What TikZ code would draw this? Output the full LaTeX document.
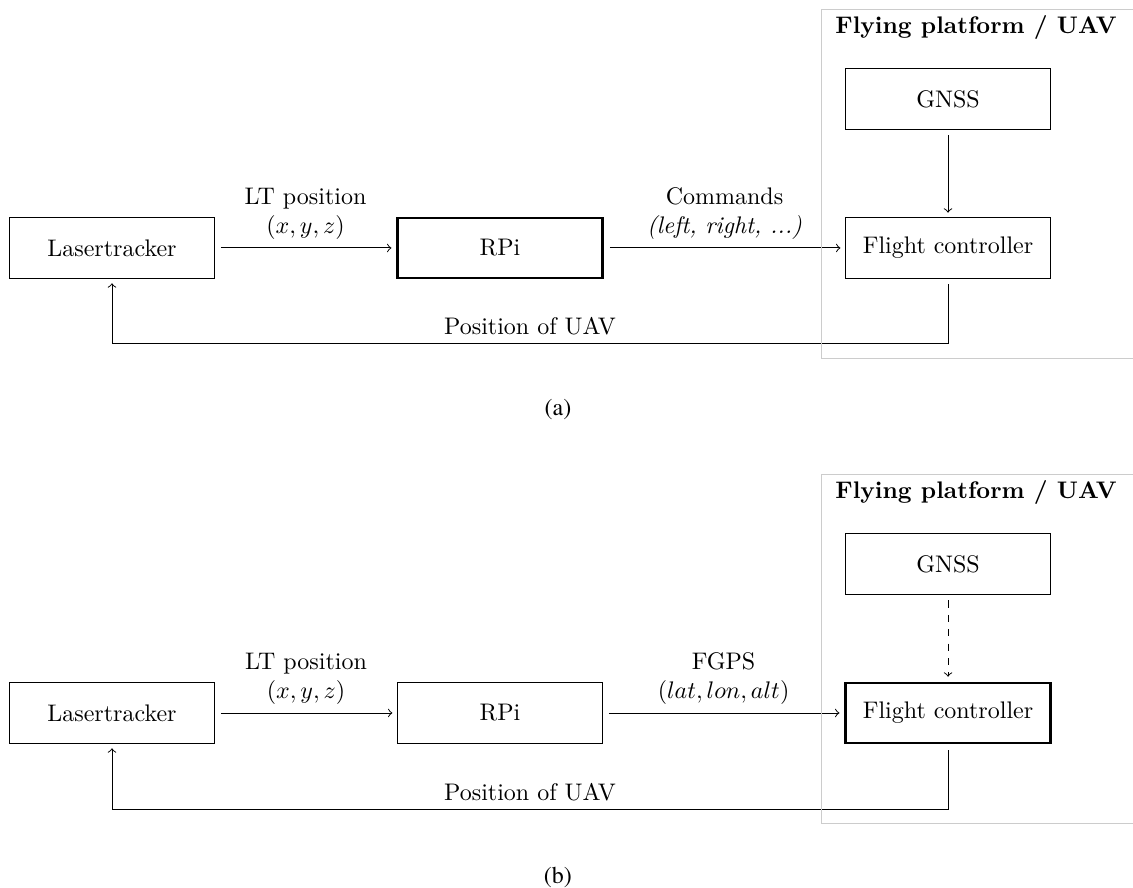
\documentclass[tikz,border=0pt]{standalone}
\usepackage{amssymb,amsmath}
\usepackage{fontspec}
\newfontfamily\capfont{texgyretermes-regular.otf}
\usetikzlibrary{arrows,positioning}

\begin{document}
\begin{tikzpicture}[node distance = 2cm]

    \tikzstyle{block} = [
        rectangle,
        draw,
        minimum width=3cm,
        minimum height=0.88cm,
        text centered,
    ]
    \tikzstyle{line} = [
        draw,
        ->,
        shorten >=2pt,
        shorten <=2.5pt,
    ]
    \tikzstyle{marco} = [
        draw=black!20,
    ]

    \useasboundingbox (0,0) rectangle (16.6,-13.01);

    % (a) commands
    \node [block] (las) at (1.641,-3.633) {Lasertracker};
    \node [block, very thick, right of=las, node distance=5.685cm] (rpi) {RPi};
    \node [block, right of=rpi, node distance=6.564cm] (fc) {Flight controller};
    \node [block, above of=fc, node distance=2.183cm] (gnss) {GNSS};

    \path [line] (las) -- node[above, align=center] {LT position\\$(x,y,z)$} (rpi);
    \path [line] (rpi) -- node[above, align=center] {Commands\\\textit{(left, right, ...)}} (fc);
    \path [line] (gnss) -- (fc);
    \path [line] (fc.south) -- ++(0,-0.952) -| node[above, pos=0.25] {Position of UAV} (las.south);

    \draw [marco] (16.6,-0.132) -- (12.03,-0.132) -- (12.03,-5.245) -- (16.6,-5.245);
    \node [font=\bfseries] (uav) at (14.30,-0.40) {Flying platform / UAV};

    \node [font=\capfont] (capa) at (8.175,-6.007) {(a)};

    % (b) fake gps
    \node [block] (lasb) at (1.641,-10.446) {Lasertracker};
    \node [block, right of=lasb, node distance=5.685cm] (rpib) {RPi};
    \node [block, very thick, right of=rpib, node distance=6.564cm] (fcb) {Flight controller};
    \node [block, above of=fcb, node distance=2.183cm] (gnssb) {GNSS};

    \path [line] (lasb) -- node[above, align=center] {LT position\\$(x,y,z)$} (rpib);
    \path [line] (rpib) -- node[above, align=center] {FGPS\\$(lat,lon,alt)$} (fcb);
    \path [line, dashed] (gnssb) -- (fcb);
    \path [line] (fcb.south) -- ++(0,-0.952) -| node[above, pos=0.25] {Position of UAV} (lasb.south);

    \draw [marco] (16.6,-6.945) -- (12.03,-6.945) -- (12.03,-12.058) -- (16.6,-12.058);
    \node [font=\bfseries] (uavb) at (14.30,-7.213) {Flying platform / UAV};

    \node [font=\capfont] (capb) at (8.175,-12.849) {(b)};

\end{tikzpicture}
\end{document}
